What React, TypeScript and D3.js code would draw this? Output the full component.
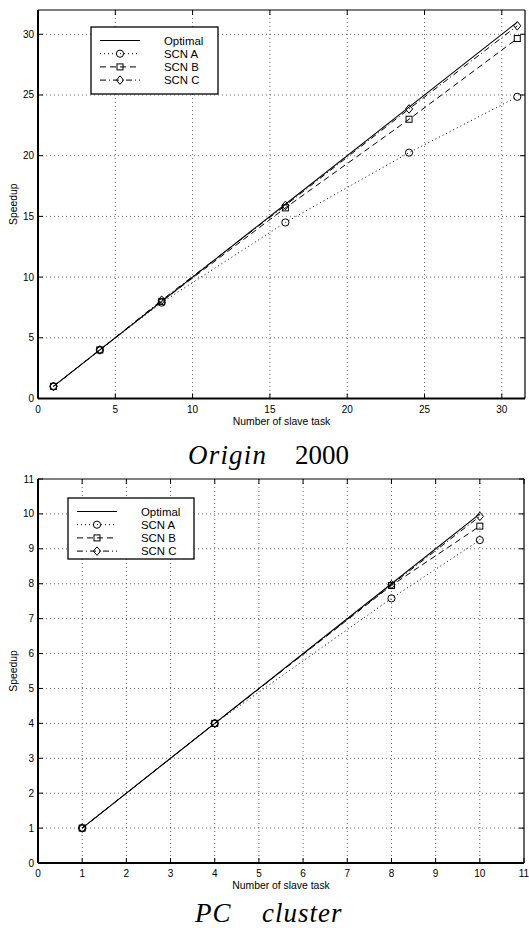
import React from 'react'
import * as d3 from 'd3'

// Origin 2000 panel
const tasksOrigin = [1, 4, 8, 16, 24, 31]
const optimalOrigin = [1, 4, 8, 16, 24, 31]
const scnAOrigin = [1, 4, 7.9, 14.5, 20.25, 24.85]
const scnBOrigin = [1, 4, 8.0, 15.7, 23.0, 29.65]
const scnCOrigin = [1, 4, 8.1, 15.9, 23.85, 30.7]
const xTicksOrigin = [0, 5, 10, 15, 20, 25, 30]
const yTicksOrigin = [0, 5, 10, 15, 20, 25, 30]

// PC cluster panel
const tasksPC = [1, 4, 8, 10]
const optimalPC = [1, 4, 8, 10]
const scnAPC = [1, 4, 7.58, 9.25]
const scnBPC = [1, 4, 7.95, 9.65]
const scnCPC = [1, 4, 7.97, 9.93]
const xTicksPC = [0, 1, 2, 3, 4, 5, 6, 7, 8, 9, 10, 11]
const yTicksPC = [0, 1, 2, 3, 4, 5, 6, 7, 8, 9, 10, 11]

const seriesNames = ['Optimal', 'SCN A', 'SCN B', 'SCN C']

const FONT = '"Liberation Sans", Arial, Helvetica, sans-serif'
const SERIF = '"Liberation Serif", "DejaVu Serif", serif'

const styles = [
  { dash: null, marker: null, width: 1.1 },
  { dash: '1,3', marker: 'circle', width: 1 },
  { dash: '6,4', marker: 'square', width: 1 },
  { dash: '6,3,1,3', marker: 'diamond', width: 1 },
]

function Marker({ kind, x, y }) {
  if (kind === 'circle') return <circle cx={x} cy={y} r={3.6} fill="none" stroke="#000" strokeWidth={1} />
  if (kind === 'square') return <rect x={x - 3} y={y - 3} width={6} height={6} fill="none" stroke="#000" strokeWidth={1} />
  if (kind === 'diamond')
    return <path d={`M${x},${y - 4.3}L${x + 3.6},${y}L${x},${y + 4.3}L${x - 3.6},${y}Z`} fill="none" stroke="#000" strokeWidth={1} />
  return null
}

function Panel({ xs, series, xDomain, yDomain, xTicks, yTicks, left, right, top, bottom, legend }) {
  const x = d3.scaleLinear().domain(xDomain).range([left, right])
  const y = d3.scaleLinear().domain(yDomain).range([bottom, top])
  const line = d3.line().x(d => x(d[0])).y(d => y(d[1]))
  const tickLen = 5

  return (
    <g>
      {/* grid */}
      {xTicks.filter(t => x(t) > left + 1 && x(t) < right - 1).map(t => (
        <line key={'gx' + t} x1={x(t)} x2={x(t)} y1={top} y2={bottom} stroke="#444" strokeWidth={0.8} strokeDasharray="1,3" />
      ))}
      {yTicks.filter(t => y(t) < bottom - 1 && y(t) > top + 1).map(t => (
        <line key={'gy' + t} x1={left} x2={right} y1={y(t)} y2={y(t)} stroke="#444" strokeWidth={0.8} strokeDasharray="1,3" />
      ))}

      {/* data lines */}
      {series.map((vals, i) => (
        <path
          key={'l' + i}
          d={line(xs.map((v, j) => [v, vals[j]]))}
          fill="none"
          stroke="#000"
          strokeWidth={styles[i].width}
          strokeDasharray={styles[i].dash || undefined}
        />
      ))}
      {series.map((vals, i) =>
        styles[i].marker
          ? xs.map((v, j) => <Marker key={'m' + i + '-' + j} kind={styles[i].marker} x={x(v)} y={y(vals[j])} />)
          : null
      )}

      {/* box */}
      <line x1={left} x2={right} y1={top} y2={top} stroke="#000" strokeWidth={1.2} />
      <line x1={right} x2={right} y1={top} y2={bottom} stroke="#000" strokeWidth={1.2} />
      <line x1={left} x2={right} y1={bottom} y2={bottom} stroke="#000" strokeWidth={2} />
      <line x1={left} x2={left} y1={top} y2={bottom} stroke="#000" strokeWidth={2} />

      {/* ticks */}
      {xTicks.map(t => (
        <g key={'tx' + t}>
          <line x1={x(t)} x2={x(t)} y1={bottom} y2={bottom - tickLen} stroke="#000" strokeWidth={1} />
          <line x1={x(t)} x2={x(t)} y1={top} y2={top + tickLen} stroke="#000" strokeWidth={1} />
          <text x={x(t)} y={bottom + 14} textAnchor="middle" fontSize={10} fontFamily={FONT}>{t}</text>
        </g>
      ))}
      {yTicks.map(t => (
        <g key={'ty' + t}>
          <line x1={left} x2={left + tickLen} y1={y(t)} y2={y(t)} stroke="#000" strokeWidth={1} />
          <line x1={right} x2={right - tickLen} y1={y(t)} y2={y(t)} stroke="#000" strokeWidth={1} />
          <text x={left - 4} y={y(t) + 3.5} textAnchor="end" fontSize={10} fontFamily={FONT}>{t}</text>
        </g>
      ))}

      {/* axis labels */}
      <text x={(left + right) / 2} y={bottom + 26} textAnchor="middle" fontSize={10.4} fontFamily={FONT}>Number of slave task</text>
      <text
        transform={`translate(${left - 21},${(top + bottom) / 2}) rotate(-90)`}
        textAnchor="middle"
        fontSize={10.4}
        fontFamily={FONT}
      >Speedup</text>

      {/* legend */}
      <rect x={legend.x} y={legend.y} width={legend.w} height={legend.h} fill="#fff" stroke="#000" strokeWidth={1.3} />
      {seriesNames.map((name, i) => {
        const ry = legend.y + 13.5 + i * 13.2
        const lx1 = legend.x + 9
        const lx2 = legend.x + 49
        return (
          <g key={'lg' + i}>
            <line x1={lx1} x2={lx2} y1={ry} y2={ry} stroke="#000" strokeWidth={styles[i].width} strokeDasharray={styles[i].dash || undefined} />
            {styles[i].marker && <Marker kind={styles[i].marker} x={(lx1 + lx2) / 2} y={ry} />}
            <text x={legend.x + 73} y={ry + 4.2} fontSize={11.4} fontFamily={FONT}>{name}</text>
          </g>
        )
      })}
    </g>
  )
}

export default function App() {
  return (
    <svg width={529} height={928} style={{ position: 'absolute', left: 0, top: 0, background: '#fff' }}>
      <rect width={529} height={928} fill="#fff" />
      <Panel
        xs={tasksOrigin}
        series={[optimalOrigin, scnAOrigin, scnBOrigin, scnCOrigin]}
        xDomain={[0, 31.5]}
        yDomain={[0, 32]}
        xTicks={xTicksOrigin}
        yTicks={yTicksOrigin}
        left={38}
        right={525}
        top={10}
        bottom={398.5}
        legend={{ x: 91, y: 27, w: 127, h: 67 }}
      />
      <text y={464} fontSize={27} fontFamily={SERIF}>
        <tspan x={188} fontStyle="italic" letterSpacing={1.2}>Origin</tspan>
        <tspan x={295}>2000</tspan>
      </text>

      <Panel
        xs={tasksPC}
        series={[optimalPC, scnAPC, scnBPC, scnCPC]}
        xDomain={[0, 11]}
        yDomain={[0, 11]}
        xTicks={xTicksPC}
        yTicks={yTicksPC}
        left={38}
        right={524}
        top={479}
        bottom={863}
        legend={{ x: 68, y: 498, w: 126, h: 61 }}
      />
      <text y={922} fontSize={27} fontFamily={SERIF} fontStyle="italic" letterSpacing={1}>
        <tspan x={195}>PC</tspan>
        <tspan x={262}>cluster</tspan>
      </text>
    </svg>
  )
}
